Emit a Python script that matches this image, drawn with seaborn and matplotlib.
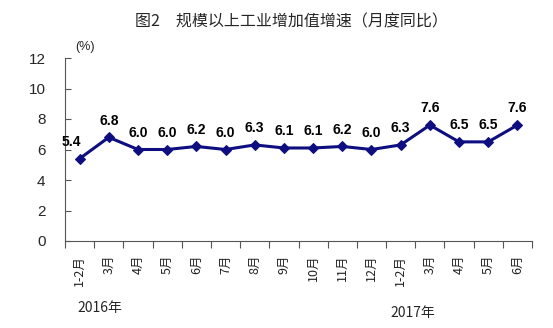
import matplotlib
matplotlib.use("Agg")
import matplotlib.pyplot as plt
import seaborn as sns
import pandas as pd
import numpy as np

categories = ["1-2月", "3月", "4月", "5月", "6月", "7月", "8月", "9月", "10月", "11月", "12月",
              "1-2月", "3月", "4月", "5月", "6月"]
values = [5.4, 6.8, 6.0, 6.0, 6.2, 6.0, 6.3, 6.1, 6.1, 6.2, 6.0, 6.3, 7.6, 6.5, 6.5, 7.6]
years = ["2016年", "2017年"]
yticks = [0, 2, 4, 6, 8, 10, 12]
title = "图2　规模以上工业增加值增速（月度同比）"

sns.set_theme(style="white")
plt.rcParams['font.family'] = ['Noto Sans CJK SC', 'DejaVu Sans']

df = pd.DataFrame({"pos": np.arange(len(values)), "val": values})

fig = plt.figure(figsize=(5.53, 3.28), dpi=100)
ax = fig.add_axes([65/553, 1-241/328, (532-65)/553, (241-58)/328])
color = "#0E0E80"
sns.lineplot(data=df, x="pos", y="val", ax=ax, color=color, linewidth=2.2,
             marker="D", markersize=5, markeredgecolor=color, markerfacecolor=color)

for i, v in enumerate(values):
    dx = -0.2 if i == 0 else 0
    ax.annotate(f"{v:.1f}", (i, v), xytext=(dx*29, 7), textcoords="offset points",
                ha="center", va="bottom", fontsize=10, fontweight="bold",
                family=["Liberation Sans", "DejaVu Sans"], color="black")

ax.set_xlim(-0.5, len(values) - 0.5)
ax.set_ylim(0, 12)
ax.set_yticks(yticks)
ax.set_yticklabels([str(t) for t in yticks], fontsize=11, family=["Liberation Sans"])
ax.set_xticks(np.arange(len(values)))
ax.set_xticklabels(categories, rotation=90, fontsize=9, family=["Noto Sans CJK SC"], color="#222222")
ax.set_xticks(np.arange(len(values) + 1) - 0.5, minor=True)
ax.tick_params(axis="x", which="major", length=0, pad=10)
ax.tick_params(axis="x", which="minor", length=5, direction="out", width=0.8, color="#555555", bottom=True)
ax.tick_params(axis="y", which="major", length=4, direction="in", width=0.8, color="#555555", left=True, pad=14)
for s in ["top", "right"]:
    ax.spines[s].set_visible(False)
for s in ["left", "bottom"]:
    ax.spines[s].set_color("#555555")
    ax.spines[s].set_linewidth(0.8)
ax.set_xlabel("")
ax.set_ylabel("")

fig.text(75/553, 1-47/328, "(%)", fontsize=9, family=["Liberation Sans"], ha="left", va="center")
fig.text(291/553, 1-22/328, title, fontsize=11.5, ha="center", va="center")
fig.text(77/553, 1-308/328, years[0], fontsize=10, family=["Noto Sans CJK SC"], ha="left", va="center")
fig.text(390/553, 1-313/328, years[1], fontsize=10, family=["Noto Sans CJK SC"], ha="left", va="center")

fig.savefig("out.png", dpi=100)
